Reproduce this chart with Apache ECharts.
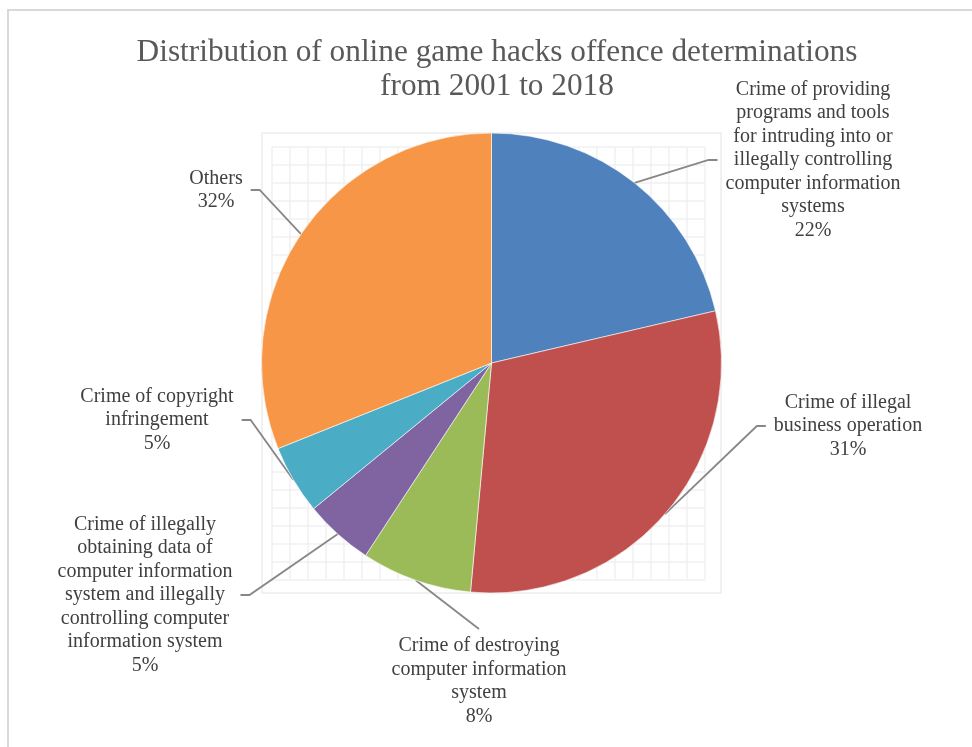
<!DOCTYPE html>
<html>
<head>
<meta charset="utf-8">
<script src="https://cdn.jsdelivr.net/npm/echarts@6/dist/echarts.min.js"></script>
<style>
  html, body { margin: 0; padding: 0; background: #ffffff; }
  #chart { width: 972px; height: 747px; }
</style>
</head>
<body>
<div id="chart"></div>
<script>
// Offence categories (line breaks are where each label wraps)
const categories = [
  'Crime of providing\nprograms and tools\nfor intruding into or\nillegally controlling\ncomputer information\nsystems',
  'Crime of illegal\nbusiness operation',
  'Crime of destroying\ncomputer information\nsystem',
  'Crime of illegally\nobtaining data of\ncomputer information\nsystem and illegally\ncontrolling computer\ninformation system',
  'Crime of copyright\ninfringement',
  'Others'
];
// Share of determinations, in percent
const shares = [22, 31, 8, 5, 5, 32];
const sliceColors = ['#4F81BD', '#C0504D', '#9BBB59', '#8064A2', '#4BACC6', '#F79646'];

const PIE_CENTER = [491.5, 363];
const PIE_RADIUS = 230;
const SERIF = '"Liberation Serif", "Times New Roman", serif';

// Where each data label sits, and which side its leader line meets
const labelSpots = [
  { x: 813, y: 160, side: 'left' },
  { x: 848, y: 426, side: 'left' },
  { x: 479, y: 681, side: 'top' },
  { x: 145, y: 595, side: 'right' },
  { x: 157, y: 420, side: 'right' },
  { x: 216, y: 190, side: 'right' }
];

const chart = echarts.init(document.getElementById('chart'), null, { renderer: 'canvas' });

const gridLine = { show: true, lineStyle: { color: '#f1f1f1', width: 1.5 } };
const hiddenParts = {
  axisLine: { show: false },
  axisTick: { show: false },
  axisLabel: { show: false }
};

chart.setOption({
  animation: false,
  backgroundColor: '#ffffff',
  title: {
    text: 'Distribution of online game hacks offence determinations\nfrom 2001 to 2018',
    left: 492,
    top: 31,
    textAlign: 'center',
    textStyle: {
      fontFamily: SERIF,
      fontSize: 31.3,
      lineHeight: 34,
      fontWeight: 'normal',
      color: '#595959'
    }
  },
  graphic: [{
    type: 'rect',
    silent: true,
    shape: { x: 8, y: 10, width: 1000, height: 1000 },
    style: { fill: 'none', stroke: '#d9d9d9', lineWidth: 2 }
  }],
  // plot-area frame and the light background grid behind the pie
  grid: [
    { left: 262, top: 133, width: 459, height: 460, show: true,
      borderColor: '#ededed', borderWidth: 1.5, backgroundColor: 'transparent' },
    { left: 271.7, top: 146.7, width: 433.3, height: 433.3 }
  ],
  xAxis: [
    { gridIndex: 0, type: 'value', show: false, min: 0, max: 1 },
    Object.assign({ gridIndex: 1, type: 'value', min: 0, max: 24, interval: 1, splitLine: gridLine }, hiddenParts)
  ],
  yAxis: [
    { gridIndex: 0, type: 'value', show: false, min: 0, max: 1 },
    Object.assign({ gridIndex: 1, type: 'value', min: 0, max: 24, interval: 1, splitLine: gridLine }, hiddenParts)
  ],
  series: [{
    type: 'pie',
    center: PIE_CENTER,
    radius: PIE_RADIUS,
    startAngle: 90,
    clockwise: true,
    avoidLabelOverlap: false,
    emphasis: { disabled: true },
    data: categories.map((name, i) => ({
      name: name,
      value: shares[i],
      itemStyle: { color: sliceColors[i] }
    })),
    itemStyle: { borderColor: '#ffffff', borderWidth: 0.6 },
    label: {
      show: true,
      formatter: p => p.name + '\n' + p.value + '%',
      fontFamily: SERIF,
      fontSize: 20,
      lineHeight: 23.5,
      color: '#404040',
      align: 'center'
    },
    labelLine: {
      show: true,
      length: 10,
      length2: 9,
      lineStyle: { color: '#878787', width: 1.8 }
    },
    labelLayout: function (p) {
      const s = labelSpots[p.dataIndex];
      const w = p.labelRect.width;
      const h = p.labelRect.height;
      let end, bend;
      if (s.side === 'left') {
        end = [s.x - w / 2 - 8, s.y];
        bend = [end[0] - 9, end[1]];
      } else if (s.side === 'right') {
        end = [s.x + w / 2 + 8, s.y];
        bend = [end[0] + 9, end[1]];
      } else {
        end = [s.x, s.y - h / 2 - 5];
        bend = end;
      }
      const out = { x: s.x, y: s.y, align: 'center', verticalAlign: 'middle' };
      if (p.labelLinePoints) {
        out.labelLinePoints = [p.labelLinePoints[0], bend, end];
      }
      return out;
    }
  }]
});
</script>
</body>
</html>
